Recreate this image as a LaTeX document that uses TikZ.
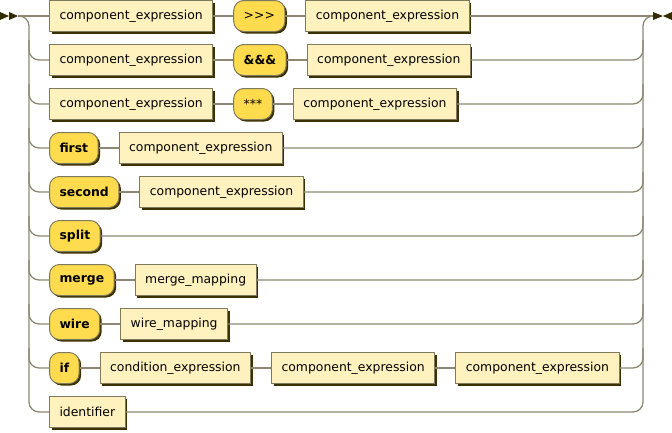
\documentclass[tikz,border=0pt]{standalone}
\usepackage{fontspec}
\setmainfont{DejaVu Sans}
\usetikzlibrary{positioning,shadows}
\definecolor{railgray}{HTML}{8C8872}
\definecolor{boxedge}{HTML}{7F7A5E}
\definecolor{boxshadow}{HTML}{3B3000}
\definecolor{ntfill}{HTML}{FFF2BF}
\definecolor{tfill}{HTML}{FFDB4D}
\definecolor{markfill}{HTML}{332C00}
\begin{document}
\begin{tikzpicture}[x=1pt,y=-1pt,node distance=20pt,
  rail/.style={draw=railgray, line width=1.3pt},
  nonterm/.style={draw=boxedge, line width=1pt, fill=ntfill, minimum height=31pt,
    inner xsep=10pt, inner ysep=0pt, font=\fontsize{12.4}{14}\selectfont,
    drop shadow={shadow xshift=2pt, shadow yshift=-2pt, fill=boxshadow, opacity=1}},
  term/.style={nonterm, fill=tfill, rounded corners=10pt},
  key/.style={term, font=\fontsize{12.4}{14}\selectfont\bfseries}]
\useasboundingbox (0,0) rectangle (672,432);
% start and end marks
\fill[markfill] (0,12) -- (9,16) -- (0,20) -- cycle (9,12) -- (18,16) -- (9,20) -- cycle;
\fill[markfill] (653,12) -- (663,16) -- (653,20) -- cycle (672,12) -- (663,16) -- (672,20) -- cycle;
\coordinate (in) at (18,16);
\coordinate (out) at (653,16);
% the alternatives
\node [nonterm, anchor=west] (a1) at (49,16) {component\_expression};
\node [term, right=of a1] (a2) {>{}>{}>};
\node [nonterm, right=of a2] (a3) {component\_expression};
\node [nonterm, anchor=west] (b1) at (49,60) {component\_expression};
\node [key, right=of b1] (b2) {\&\&\&};
\node [nonterm, right=of b2] (b3) {component\_expression};
\node [nonterm, anchor=west] (c1) at (49,104) {component\_expression};
\node [term, right=of c1] (c2) {***};
\node [nonterm, right=of c2] (c3) {component\_expression};
\node [key, anchor=west] (d1) at (49,148) {first};
\node [nonterm, right=of d1] (d2) {component\_expression};
\node [key, anchor=west] (e1) at (49,192) {second};
\node [nonterm, right=of e1] (e2) {component\_expression};
\node [key, anchor=west] (f1) at (49,236) {split};
\node [key, anchor=west] (g1) at (49,280) {merge};
\node [nonterm, right=of g1] (g2) {merge\_mapping};
\node [key, anchor=west] (h1) at (49,324) {wire};
\node [nonterm, right=of h1] (h2) {wire\_mapping};
\node [key, anchor=west] (i1) at (49,368) {if};
\node [nonterm, right=of i1] (i2) {condition\_expression};
\node [nonterm, right=of i2] (i3) {component\_expression};
\node [nonterm, right=of i3] (i4) {component\_expression};
\node [nonterm, anchor=west] (j1) at (49,412) {identifier};
% main rails
\draw[rail] (in) -- (a1) (a1) -- (a2) (a2) -- (a3) (a3) -- (out);
\draw[rail, rounded corners=10pt] (in) -| (29,412) -- (j1);
\draw[rail, rounded corners=10pt] (j1) -| (643,16) -- (out);
% branches in
\draw[rail, rounded corners=10pt] (29,40) |- (b1);
\draw[rail, rounded corners=10pt] (29,84) |- (c1);
\draw[rail, rounded corners=10pt] (29,128) |- (d1);
\draw[rail, rounded corners=10pt] (29,172) |- (e1);
\draw[rail, rounded corners=10pt] (29,216) |- (f1);
\draw[rail, rounded corners=10pt] (29,260) |- (g1);
\draw[rail, rounded corners=10pt] (29,304) |- (h1);
\draw[rail, rounded corners=10pt] (29,348) |- (i1);
% links inside rows
\draw[rail] (b1) -- (b2) (b2) -- (b3);
\draw[rail] (c1) -- (c2) (c2) -- (c3);
\draw[rail] (d1) -- (d2);
\draw[rail] (e1) -- (e2);
\draw[rail] (g1) -- (g2);
\draw[rail] (h1) -- (h2);
\draw[rail] (i1) -- (i2) (i2) -- (i3) (i3) -- (i4);
% branches out
\draw[rail, rounded corners=10pt] (b3) -| (643,40);
\draw[rail, rounded corners=10pt] (c3) -| (643,84);
\draw[rail, rounded corners=10pt] (d2) -| (643,128);
\draw[rail, rounded corners=10pt] (e2) -| (643,172);
\draw[rail, rounded corners=10pt] (f1) -| (643,216);
\draw[rail, rounded corners=10pt] (g2) -| (643,260);
\draw[rail, rounded corners=10pt] (h2) -| (643,304);
\draw[rail, rounded corners=10pt] (i4) -| (643,348);
\end{tikzpicture}
\end{document}
